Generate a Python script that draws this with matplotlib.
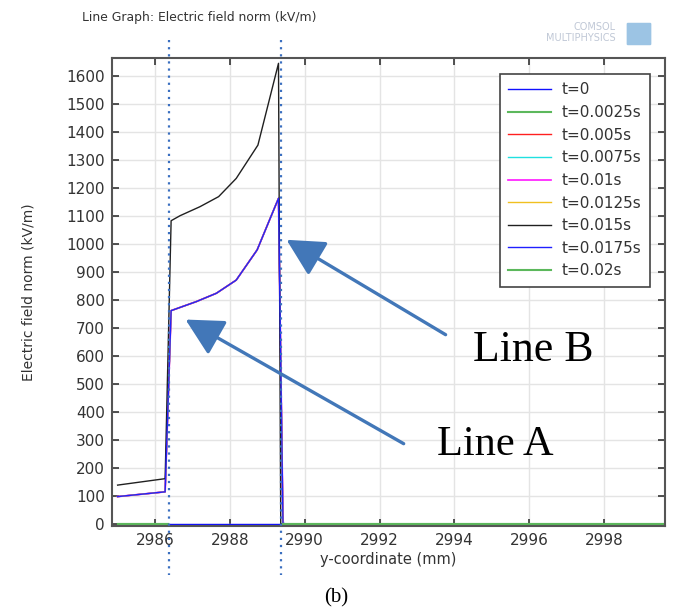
import matplotlib
matplotlib.use("Agg")
import matplotlib.pyplot as plt
import numpy as np
from matplotlib.patches import FancyArrowPatch, FancyBboxPatch
from matplotlib.transforms import blended_transform_factory

# data
x_curve = [2985.0, 2986.27, 2986.43, 2987.1, 2987.64, 2988.17, 2988.73, 2989.3, 2989.42, 2999.63]
y_curve = [98, 115, 762, 794, 824, 871, 979, 1163, 0, 0]

x_black = [2985.0, 2986.27, 2986.43, 2986.67, 2987.2, 2987.7, 2988.17, 2988.75, 2989.3, 2989.36, 2999.63]
y_black = [139, 162, 1083, 1101, 1133, 1169, 1234, 1353, 1645, 0, 0]

x_t0 = [2986.35, 2986.35, 2989.42, 2989.42]
y_t0 = [0, 0, 0, 6]

x_green = [2985.0, 2986.35, np.nan, 2989.42, 2999.63]
y_green = [0, 0, np.nan, 0, 0]

labels = ["t=0", "t=0.0025s", "t=0.005s", "t=0.0075s", "t=0.01s",
          "t=0.0125s", "t=0.015s", "t=0.0175s", "t=0.02s"]
colors = ["#1010ff", "#5cb85c", "#ff2020", "#20e0e0", "#ff20ff",
          "#f0c020", "#202020", "#2020ff", "#5cb85c"]

boundary_x = [2986.37, 2989.37]
arrow_A = [(2992.71, 282), (2986.75, 735)]
arrow_B = [(2993.83, 671), (2989.45, 1020)]

fig = plt.figure(figsize=(6.74, 6.14), dpi=100)
ax = fig.add_axes([112/674, 1-526/614, (665-112)/674, (526-58)/614])

series = [(x_t0, y_t0), (x_green, y_green), (x_curve, y_curve), (x_curve, y_curve),
          (x_curve, y_curve), (x_curve, y_curve), (x_black, y_black),
          (x_curve, y_curve), (x_green, y_green)]
widths = [1.0, 1.5, 1.0, 1.0, 1.25, 1.0, 1.0, 1.0, 1.5]
for (xs, ys), lab, c, w in zip(series, labels, colors, widths):
    ax.plot(xs, ys, color=c, lw=w, label=lab)

ax.set_xlim(2984.85, 2999.63)
ax.set_ylim(-7, 1664)
ax.set_xticks(np.arange(2986, 2999, 2))
ax.set_yticks(np.arange(0, 1601, 100))
ax.grid(True, color="#e4e4e4", lw=1)
ax.set_axisbelow(True)
ax.tick_params(direction="in", top=True, right=True, length=5, width=1.2,
               labelsize=11, colors="#333333", pad=5)
for s in ax.spines.values():
    s.set_color("#555555")
    s.set_linewidth(1.5)

ax.set_xlabel("y-coordinate (mm)", fontsize=10.5, color="#333333", labelpad=3)
ax.set_ylabel("Electric field norm (kV/m)", fontsize=10, color="#333333", labelpad=22)

leg = ax.legend(loc="upper right", bbox_to_anchor=(0.973, 0.966), fontsize=11,
                handlelength=2.8, labelspacing=0.5, borderpad=0.55,
                fancybox=False, framealpha=1, edgecolor="#444444",
                handletextpad=0.7, borderaxespad=0)
leg.get_frame().set_linewidth(1.2)
for t in leg.get_texts():
    t.set_color("#333333")

# dotted boundary markers that run past the axes
tr = blended_transform_factory(ax.transData, fig.transFigure)
for bx in boundary_x:
    ax.plot([bx, bx], [1-40/614, 1-575/614], transform=tr, color="#3a6fc0",
            ls=(0, (1, 2.2)), lw=1.6, clip_on=False, zorder=5)

# annotation arrows
for (tail, tip) in [arrow_A, arrow_B]:
    ar = FancyArrowPatch(tail, tip, arrowstyle="-|>,head_length=1.15,head_width=0.6",
                         mutation_scale=20, color="#4277b8", lw=2.4, zorder=6)
    ax.add_patch(ar)

fig.text(473/674, 1-350/614, "Line B", fontsize=31.5, family="Liberation Serif",
         va="center", ha="left")
fig.text(437/674, 1-445/614, "Line A", fontsize=30.5, family="Liberation Serif",
         va="center", ha="left")
fig.text(336/674, 1-598/614, "(b)", fontsize=15, family="Liberation Serif",
         va="center", ha="center")

fig.text(82/674, 1-17/614, "Line Graph: Electric field norm (kV/m)", fontsize=8.9,
         color="#333333", va="center", ha="left")
fig.text(616/674, 1-27/614, "COMSOL", fontsize=7, color="#c0c8d6",
         va="center", ha="right")
fig.text(616/674, 1-38/614, "MULTIPHYSICS", fontsize=7, color="#c0c8d6",
         va="center", ha="right")
logo = FancyBboxPatch((628/674, 1-44/614), 22/674, 20/614,
                      boxstyle="round,pad=0.002", transform=fig.transFigure,
                      facecolor="#9cc4e4", edgecolor="none")
fig.patches.append(logo)

fig.savefig("out.png", dpi=100)
